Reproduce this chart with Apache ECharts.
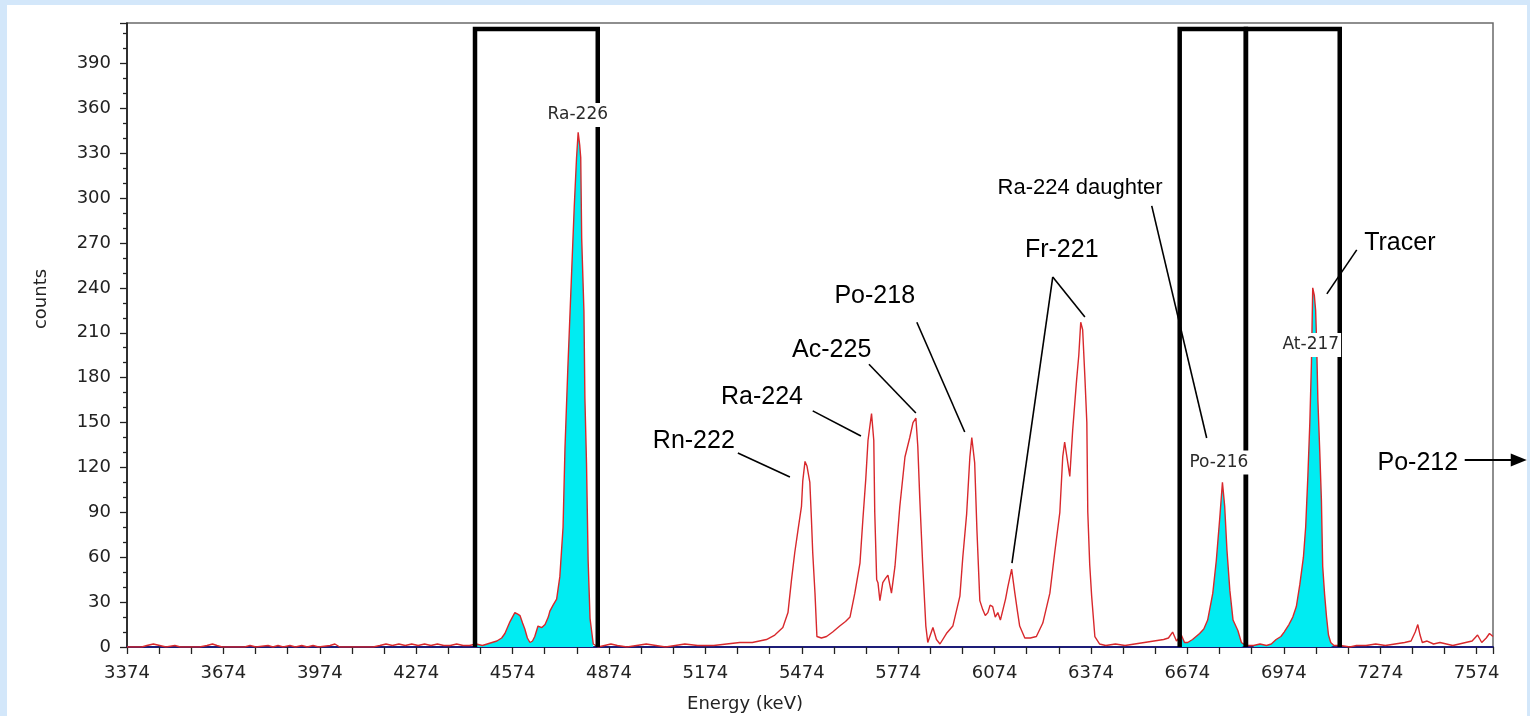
<!DOCTYPE html>
<html>
<head>
<meta charset="utf-8">
<title>Alpha spectrum</title>
<script src="https://cdn.jsdelivr.net/npm/echarts@6.0.0/dist/echarts.min.js"></script>
<style>
  html, body { margin: 0; padding: 0; }
  body { width: 1530px; height: 716px; background: #d3e7fa; position: relative; overflow: hidden; }
  #paper { position: absolute; left: 7px; top: 5px; width: 1520px; height: 711px; background: #fff; }
  #chart { position: absolute; left: 0; top: 0; width: 1530px; height: 716px; }
</style>
</head>
<body>
<div id="paper"></div>
<div id="chart"></div>
<script>
// spectrum: [energy keV, counts]
const tailLow = [[3374,0],[3400,0],[3420,0],[3436,1],[3456,2],[3476,1],[3495,0],[3523,1],[3540,0],[3600,0],[3623,1],[3640,2],[3654,1],[3670,0],[3740,0],[3757,1],[3775,0],[3813,1],[3828,0],[3844,1],[3860,0],[3881,1],[3898,0],[3918,1],[3935,0],[3953,1],[3970,0],[4006,1],[4021,2],[4036,0],[4140,0],[4161,1],[4180,2],[4200,1],[4220,2],[4240,1],[4260,2],[4280,1],[4300,2],[4320,1],[4340,2],[4360,1],[4380,1],[4400,2],[4420,1],[4440,1],[4460,2],[4480,1],[4495,2]];
const ra226Region = [[4510,3],[4525,4],[4540,6],[4550,9],[4566,17],[4581,23],[4590,22],[4597,21],[4605,16],[4612,12],[4620,6],[4628,3],[4636,4],[4643,7],[4653,14],[4665,13],[4675,15],[4685,20],[4690,24],[4700,28],[4711,32],[4721,47],[4731,80],[4737,133],[4746,187],[4758,252],[4766,295],[4773,327],[4778,344],[4783,335],[4786,327],[4789,273],[4796,224],[4799,166],[4804,123],[4809,58],[4815,19],[4825,2],[4840,0],[4860,1],[4880,2],[4900,1],[4930,0],[4960,1],[4990,2],[5020,1],[5050,0],[5080,1],[5110,2],[5150,1],[5200,1],[5240,2]];
const midPeaks = [[5281,3],[5320,3],[5364,5],[5390,8],[5415,13],[5431,23],[5442,45],[5452,63],[5462,78],[5473,94],[5477,111],[5484,124],[5490,121],[5493,120],[5499,110],[5504,85],[5508,63],[5515,36],[5521,7],[5535,6],[5551,7],[5570,10],[5592,14],[5610,17],[5624,20],[5639,36],[5655,56],[5664,85],[5673,112],[5680,138],[5691,156],[5698,138],[5701,90],[5707,45],[5711,43],[5717,31],[5726,43],[5735,46],[5742,48],[5753,36],[5764,54],[5779,94],[5795,127],[5810,140],[5820,150],[5829,153],[5835,134],[5841,100],[5850,56],[5860,14],[5866,3],[5882,13],[5893,5],[5904,2],[5924,9],[5944,14],[5966,34],[5975,60],[5987,89],[5997,127],[6003,140],[6012,123],[6019,78],[6028,31],[6037,25],[6045,21],[6053,23],[6060,28],[6068,27],[6076,20],[6084,23],[6092,18],[6100,25],[6108,32],[6115,40],[6127,52],[6137,36],[6145,24],[6152,14],[6168,6],[6185,6],[6204,7],[6224,16],[6246,36],[6261,63],[6277,90],[6286,127],[6292,137],[6298,136],[6308,114],[6317,145],[6329,178],[6336,195],[6342,217],[6348,212],[6355,180],[6361,150],[6364,90],[6370,55],[6376,34],[6386,7],[6401,2],[6420,1],[6450,2],[6480,1],[6510,2],[6540,3],[6570,4]];
const highPeaks = [[6600,5],[6615,6],[6628,10],[6640,4],[6655,8],[6665,3],[6675,3],[6690,5],[6712,9],[6725,12],[6737,18],[6753,36],[6764,58],[6775,87],[6783,110],[6790,94],[6797,65],[6806,38],[6816,18],[6831,11],[6842,3],[6855,1],[6880,1],[6900,2],[6920,1],[6935,2],[6950,5],[6965,7],[6975,10],[6990,15],[7002,20],[7013,27],[7024,42],[7035,60],[7042,80],[7049,115],[7055,150],[7060,190],[7064,240],[7069,235],[7073,225],[7076,205],[7080,165],[7086,130],[7091,98],[7095,54],[7101,35],[7107,20],[7113,8],[7120,3],[7130,1]];
const tailHigh = [[7150,1],[7180,0],[7200,1],[7230,1],[7260,2],[7290,1],[7320,2],[7350,3],[7370,4],[7383,10],[7391,15],[7398,8],[7405,3],[7420,4],[7440,2],[7460,3],[7480,2],[7500,1],[7520,2],[7540,3],[7560,4],[7577,8],[7590,3],[7604,6],[7614,9],[7625,7]];

// regions of interest [from keV, to keV] and the height of their frame
const roiEdges = [[4457, 4839], [6650, 6856], [6856, 7148]];
const roiTop = 413;

// axis
const xOrigin = 3374;
const xEnd = 7625;
const xStep = 300;
const yMax = 417;
const yStep = 30;

// peak notes: text anchor and leader lines, in [keV, counts]
const peakNotes = [
  { text: 'Rn-222', at: [5138, 137.7], lines: [[[5275, 129.7], [5437, 113.6]]] },
  { text: 'Ra-224', at: [5350, 167], lines: [[[5508, 157.8], [5658, 141]]] },
  { text: 'Ac-225', at: [5567, 198.5], lines: [[[5683, 189], [5829, 156.4]]] },
  { text: 'Po-218', at: [5701, 234.6], lines: [[[5832, 217], [5981, 143.7]]] },
  { text: 'Fr-221', at: [6283, 265.4], lines: [[[6255, 247.3], [6355, 220.6]], [[6255, 247.3], [6128, 56.1]]] },
  { text: 'Ra-224 daughter', at: [6597, 306.8], align: 'right', size: 22, lines: [[[6563, 294.8], [6734, 139.7]]] },
  { text: 'Tracer', at: [7335, 270], lines: [[[7201, 265.4], [7108, 236]]] },
  { text: 'Po-212', at: [7391, 123], arrow: [[7537, 125], [7730, 125]] }
];
// boxed nuclide tags drawn over the ROI frames
const roiTags = [
  { text: 'Ra-226', at: [4777, 355.6] },
  { text: 'Po-216', at: [6772, 123.3] },
  { text: 'At-217', at: [7058, 201.9] }
];

const FONT_AXIS = '"DejaVu Sans", sans-serif';
const FONT_NOTE = '"Liberation Sans", Arial, sans-serif';

const shift = (p) => [p[0] - xOrigin, p[1]];
const spectrum = [].concat(tailLow, ra226Region, midPeaks, highPeaks, tailHigh);

const chart = echarts.init(document.getElementById('chart'));

const roiFill = roiEdges.map(([a, b]) => ({
  type: 'line',
  data: spectrum.filter((p) => p[0] >= a && p[0] <= b).map(shift),
  showSymbol: false,
  silent: true,
  lineStyle: { opacity: 0 },
  areaStyle: { color: '#00ecf2', opacity: 1 },
  z: 2
}));

const roiFrames = roiEdges.map(([a, b]) => ({
  type: 'line',
  data: [[a, 0], [a, roiTop], [b, roiTop], [b, 0]].map(shift),
  showSymbol: false,
  silent: true,
  lineStyle: { color: '#000', width: 4.5, join: 'miter' },
  z: 4
}));

chart.setOption({
  animation: false,
  backgroundColor: 'transparent',
  grid: {
    left: 127, top: 23, right: 37, bottom: 69,
    show: true, borderColor: '#6a6a6a', borderWidth: 1.5, backgroundColor: 'transparent'
  },
  xAxis: {
    type: 'value',
    min: 0,
    max: xEnd - xOrigin,
    interval: xStep,
    axisLine: { show: true, onZero: false, lineStyle: { color: '#1d1d78', width: 2 } },
    axisTick: { show: true, length: 7, lineStyle: { color: '#222', width: 1.3 } },
    minorTick: { show: true, splitNumber: 3, length: 7, lineStyle: { color: '#222', width: 1.3 } },
    splitLine: { show: false },
    minorSplitLine: { show: false },
    axisLabel: {
      margin: 17,
      fontFamily: FONT_AXIS,
      fontSize: 18,
      color: '#222',
      formatter: (v) => (v % xStep === 0 ? String(v + xOrigin) : '')
    }
  },
  yAxis: {
    type: 'value',
    min: 0,
    max: yMax,
    interval: yStep,
    axisLine: { show: true, lineStyle: { color: '#111', width: 1.5 } },
    axisTick: { show: true, length: 7, lineStyle: { color: '#222', width: 1.3 } },
    minorTick: { show: true, splitNumber: 3, length: 4, lineStyle: { color: '#222', width: 1.3 } },
    splitLine: { show: false },
    minorSplitLine: { show: false },
    axisLabel: {
      margin: 16,
      fontFamily: FONT_AXIS,
      fontSize: 18,
      color: '#222',
      formatter: (v) => (v % yStep === 0 ? String(v) : '')
    }
  },
  series: [
    ...roiFill,
    {
      type: 'line',
      data: spectrum.map(shift),
      showSymbol: false,
      silent: true,
      lineStyle: { color: '#d8282c', width: 1.4 },
      z: 3
    },
    ...roiFrames
  ]
});

// annotations placed through the axes
const toPx = (p) => chart.convertToPixel({ xAxisIndex: 0, yAxisIndex: 0 }, shift(p));
const graphics = [];

peakNotes.forEach((n) => {
  const [x, y] = toPx(n.at);
  graphics.push({
    type: 'text', x, y, z: 20,
    style: { text: n.text, font: (n.size || 25) + 'px ' + FONT_NOTE, fill: '#000', align: n.align || 'center', verticalAlign: 'middle' }
  });
  (n.lines || []).forEach(([p1, p2]) => {
    const a = toPx(p1), b = toPx(p2);
    graphics.push({
      type: 'line', z: 20,
      shape: { x1: a[0], y1: a[1], x2: b[0], y2: b[1] },
      style: { stroke: '#000', lineWidth: 1.6 }
    });
  });
  if (n.arrow) {
    const a = toPx(n.arrow[0]), b = toPx(n.arrow[1]);
    graphics.push({
      type: 'line', z: 20,
      shape: { x1: a[0], y1: a[1], x2: b[0] - 12, y2: b[1] },
      style: { stroke: '#000', lineWidth: 2 }
    });
    graphics.push({
      type: 'polygon', z: 20,
      shape: { points: [[b[0], b[1]], [b[0] - 16, b[1] - 6.5], [b[0] - 16, b[1] + 6.5]] },
      style: { fill: '#000' }
    });
  }
});

roiTags.forEach((t) => {
  const [x, y] = toPx(t.at);
  graphics.push({
    type: 'text', x, y, z: 30,
    style: {
      text: t.text, font: '17px ' + FONT_AXIS, fill: '#2a2a2a',
      align: 'center', verticalAlign: 'middle',
      backgroundColor: '#fff', padding: [4, 2, 3, 2]
    }
  });
});

// axis titles
graphics.push({
  type: 'text', x: 41, y: 299, rotation: Math.PI / 2, z: 20,
  style: { text: 'counts', font: '18px ' + FONT_AXIS, fill: '#222', align: 'center', verticalAlign: 'middle' }
});
graphics.push({
  type: 'text', x: 745, y: 704, z: 20,
  style: { text: 'Energy (keV)', font: '18px ' + FONT_AXIS, fill: '#222', align: 'center', verticalAlign: 'middle' }
});

chart.setOption({ graphic: graphics });
</script>
</body>
</html>
